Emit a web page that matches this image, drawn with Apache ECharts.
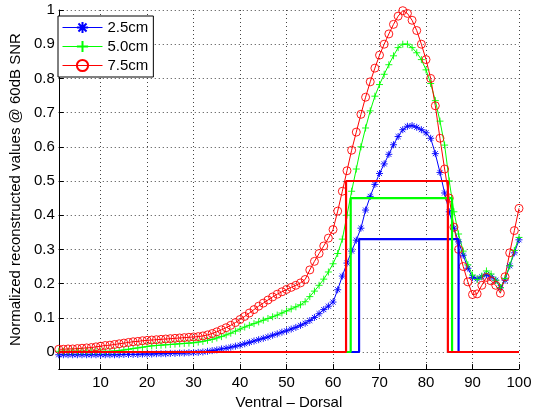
<!DOCTYPE html>
<html>
<head>
<meta charset="utf-8">
<script src="https://cdn.jsdelivr.net/npm/echarts@6/dist/echarts.min.js"></script>
<style>
html,body{margin:0;padding:0;background:#fff;}
#c{width:535px;height:415px;}
</style>
</head>
<body>
<div id="c"></div>
<script>
const xs = Array.from({length: 100}, (_, i) => i + 1);
const xTicks = [10, 20, 30, 40, 50, 60, 70, 80, 90, 100];
const yTicks = [0, 0.1, 0.2, 0.3, 0.4, 0.5, 0.6, 0.7, 0.8, 0.9, 1];
const names = ['2.5cm', '5.0cm', '7.5cm'];

const blue25 = [
-0.008,-0.008,-0.008,-0.008,-0.008,-0.008,-0.008,-0.008,-0.008,-0.008,
-0.008,-0.008,-0.008,-0.008,-0.007,-0.007,-0.007,-0.007,-0.006,-0.006,
-0.006,-0.005,-0.005,-0.005,-0.004,-0.004,-0.003,-0.003,-0.002,-0.002,
-0.001,0.0,0.002,0.004,0.006,0.009,0.011,0.014,0.017,0.02,
0.024,0.028,0.032,0.036,0.04,0.044,0.049,0.053,0.058,0.062,
0.067,0.072,0.078,0.084,0.092,0.101,0.112,0.124,0.134,0.146,
0.182,0.222,0.26,0.295,0.327,0.362,0.415,0.455,0.49,0.522,
0.55,0.578,0.606,0.63,0.65,0.66,0.662,0.657,0.65,0.641,
0.625,0.58,0.525,0.465,0.41,0.362,0.322,0.283,0.245,0.218,
0.214,0.22,0.226,0.22,0.21,0.188,0.21,0.252,0.29,0.328
];
const green50 = [
0.002,0.002,0.002,0.002,0.002,0.002,0.002,0.002,0.002,0.002,
0.002,0.002,0.003,0.004,0.006,0.008,0.01,0.012,0.014,0.016,
0.018,0.019,0.02,0.021,0.022,0.023,0.024,0.025,0.026,0.027,
0.029,0.031,0.034,0.037,0.041,0.045,0.05,0.055,0.061,0.067,
0.073,0.078,0.083,0.088,0.093,0.098,0.103,0.108,0.114,0.12,
0.126,0.132,0.138,0.147,0.162,0.178,0.195,0.213,0.234,0.258,
0.288,0.33,0.4,0.47,0.535,0.6,0.655,0.705,0.748,0.782,
0.812,0.84,0.866,0.89,0.9,0.9,0.89,0.875,0.855,0.825,
0.785,0.735,0.675,0.605,0.5,0.41,0.345,0.295,0.255,0.225,
0.212,0.222,0.237,0.228,0.21,0.188,0.215,0.252,0.297,0.335
];
const red75 = [
0.008,0.008,0.009,0.009,0.01,0.011,0.012,0.013,0.015,0.017,
0.019,0.02,0.022,0.024,0.026,0.028,0.03,0.031,0.033,0.034,
0.035,0.036,0.037,0.038,0.039,0.04,0.041,0.042,0.043,0.044,
0.045,0.047,0.05,0.054,0.059,0.065,0.071,0.078,0.086,0.095,
0.104,0.114,0.124,0.134,0.143,0.152,0.161,0.169,0.176,0.183,
0.189,0.195,0.202,0.212,0.24,0.265,0.288,0.31,0.333,0.358,
0.412,0.47,0.53,0.59,0.643,0.695,0.745,0.79,0.83,0.868,
0.9,0.93,0.958,0.982,0.998,0.99,0.97,0.94,0.9,0.855,
0.8,0.72,0.625,0.535,0.45,0.365,0.3,0.25,0.205,0.168,
0.17,0.195,0.218,0.208,0.195,0.172,0.22,0.29,0.355,0.42
];

// step (true region) outlines
const stepBlueX  = [1, 65.6, 65.6, 87.0, 87.0, 100];
const stepBlueY  = [0, 0, 0.33, 0.33, 0, 0];
const stepGreenX = [1, 63.8, 63.8, 85.6, 85.6, 100];
const stepGreenY = [0, 0, 0.45, 0.45, 0, 0];
const stepRedX   = [1, 62.8, 62.8, 84.7, 84.7, 100];
const stepRedY   = [0, 0, 0.5, 0.5, 0, 0];

const pair = (xarr, yarr) => xarr.map((x, i) => [x, yarr[i]]);

const FONT = '"Liberation Sans", Arial, Helvetica, sans-serif';
const ASTER = 'path://M0,-5L0,5M-5,0L5,0M-3.6,-3.6L3.6,3.6M-3.6,3.6L3.6,-3.6';
const PLUS = 'path://M0,-5L0,5M-5,0L5,0';

function curve(name, data, color, symbol, size) {
  return {
    name: name, type: 'line', data: pair(xs, data),
    symbol: symbol, symbolSize: size, showSymbol: true,
    lineStyle: {color: color, width: 1},
    itemStyle: {color: 'rgba(0,0,0,0)', borderColor: color, borderWidth: 0.9},
    animation: false, z: 2
  };
}
function step(name, xarr, yarr, color) {
  return {
    name: name, type: 'line', data: pair(xarr, yarr),
    symbol: 'none', lineStyle: {color: color, width: 2.2},
    itemStyle: {color: color}, animation: false, z: 3, silent: true
  };
}

const chart = echarts.init(document.getElementById('c'), null, {renderer: 'canvas'});
chart.setOption({
  backgroundColor: '#fff',
  animation: false,
  grid: {left: 52, right: 16, top: 10, bottom: 37, containLabel: false},
  legend: {
    data: names, orient: 'vertical', left: 58, top: 16,
    padding: [4, 5, 4, 4], itemWidth: 40, itemHeight: 14, itemGap: 4,
    borderColor: '#000', borderWidth: 1, backgroundColor: '#fff',
    lineStyle: {width: 1},
    textStyle: {fontFamily: FONT, fontSize: 15, color: '#000'},
    z: 10
  },
  xAxis: {
    type: 'value', min: 1, max: 100,
    name: 'Ventral \u2013 Dorsal', nameLocation: 'middle', nameGap: 24,
    nameTextStyle: {fontFamily: FONT, fontSize: 15, color: '#000'},
    axisLine: {show: true, onZero: false, lineStyle: {color: '#000', width: 1}},
    axisTick: {show: true, inside: true, length: 5, customValues: xTicks, lineStyle: {color: '#000'}},
    axisLabel: {customValues: xTicks, fontFamily: FONT, fontSize: 15, color: '#000', margin: 6},
    splitLine: {show: true, lineStyle: {color: '#444', type: [1, 3], width: 1}}
  },
  yAxis: {
    type: 'value', min: -0.05, max: 1,
    name: 'Normalized reconstructed values @ 60dB SNR', nameLocation: 'middle', nameGap: 32,
    nameTextStyle: {fontFamily: FONT, fontSize: 15, color: '#000'},
    axisLine: {show: true, onZero: false, lineStyle: {color: '#000', width: 1}},
    axisTick: {show: true, inside: true, length: 5, customValues: yTicks, lineStyle: {color: '#000'}},
    axisLabel: {customValues: yTicks, fontFamily: FONT, fontSize: 15, color: '#000', margin: 4,
      formatter: v => String(Math.round(v * 10) / 10)},
    splitLine: {show: true, lineStyle: {color: '#444', type: [1, 3], width: 1}}
  },
  series: [
    curve(names[0], blue25, '#0000ff', ASTER, 7),
    curve(names[1], green50, '#00ff00', PLUS, 7),
    curve(names[2], red75, '#ff0000', 'circle', 8),
    step('true 2.5cm', stepBlueX, stepBlueY, '#0000ff'),
    step('true 5.0cm', stepGreenX, stepGreenY, '#00ff00'),
    step('true 7.5cm', stepRedX, stepRedY, '#ff0000')
  ]
});
</script>
</body>
</html>
